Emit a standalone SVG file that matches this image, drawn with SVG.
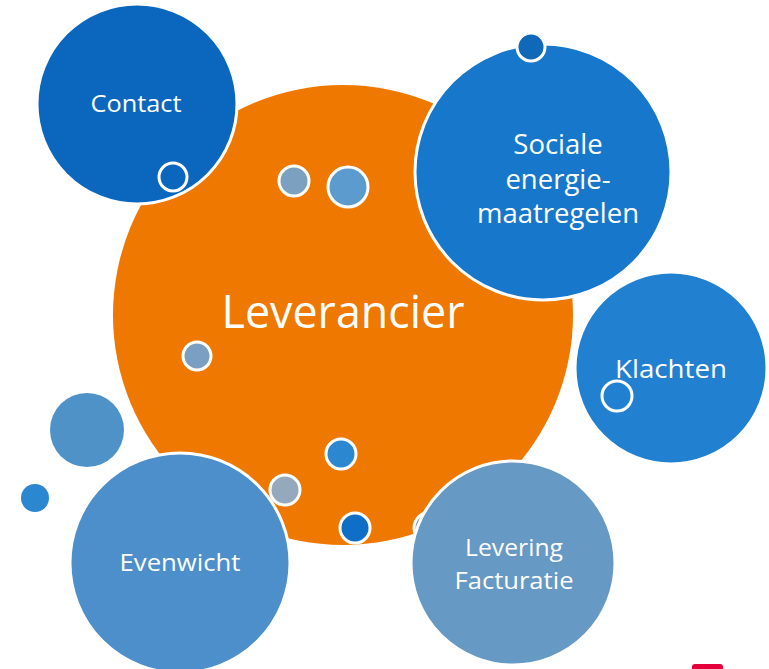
<svg xmlns="http://www.w3.org/2000/svg" width="769" height="669" viewBox="0 0 769 669">
<style>
.big{stroke:#fff;stroke-width:3}
.dot{stroke:#fff;stroke-width:3}
.lbl{fill:#fff;font-family:"Open Sans","Noto Sans",sans-serif;text-anchor:middle}
</style>
<rect width="769" height="669" fill="#fff"/>
<g id="leverancier">
<circle cx="343" cy="315" r="230" fill="#ee7800"/>
<text class="lbl" x="343" y="328" font-size="45" textLength="243" lengthAdjust="spacingAndGlyphs">Leverancier</text>
</g>
<g id="dots-orange">
<circle class="dot" cx="294" cy="181" r="15" fill="#7ba0c0"/>
<circle class="dot" cx="348" cy="187" r="20" fill="#5b9bce"/>
<circle class="dot" cx="197" cy="356" r="14" fill="#7a9fc2"/>
<circle class="dot" cx="341" cy="454" r="15" fill="#2b87d0"/>
<circle class="dot" cx="285" cy="490" r="15" fill="#94a9bb"/>
<circle class="dot" cx="355" cy="528" r="15" fill="#0f6fc6"/>
<circle class="dot" cx="430" cy="528" r="16" fill="#7ba0c0"/>
</g>
<g id="free-dots">
<circle cx="87" cy="430" r="37" fill="#4f92c8"/>
<circle cx="35" cy="498" r="14" fill="#2b87d0"/>
</g>
<g id="contact">
<circle class="big" cx="137" cy="104" r="100" fill="#0b66bd"/>
<circle class="dot" cx="173" cy="177" r="14" fill="#0b66bd"/>
<text class="lbl" x="136" y="112" font-size="24" textLength="91" lengthAdjust="spacingAndGlyphs">Contact</text>
</g>
<g id="klachten">
<circle class="big" cx="671" cy="368" r="96" fill="#2280d0"/>
<circle class="dot" cx="617" cy="396" r="15" fill="#2280d0"/>
<text class="lbl" x="671" y="378" font-size="26" textLength="112" lengthAdjust="spacingAndGlyphs">Klachten</text>
</g>
<g id="sociale">
<circle class="big" cx="543" cy="172" r="128" fill="#1677cb"/>
<circle class="dot" cx="531" cy="47" r="14" fill="#0f68b8"/>
<text class="lbl" font-size="27.5"><tspan x="558" y="154">Sociale</tspan><tspan x="558" y="189">energie-</tspan><tspan x="558" y="223">maatregelen</tspan></text>
</g>
<g id="evenwicht">
<circle class="big" cx="180" cy="563" r="110" fill="#4c8fca"/>
<text class="lbl" x="180" y="571" font-size="24" textLength="121" lengthAdjust="spacingAndGlyphs">Evenwicht</text>
</g>
<g id="levering">
<circle class="big" cx="513" cy="563" r="102" fill="#6699c4"/>
<text class="lbl" x="514" y="556" font-size="24" textLength="98" lengthAdjust="spacingAndGlyphs">Levering</text>
<text class="lbl" x="514" y="589" font-size="24" textLength="119" lengthAdjust="spacingAndGlyphs">Facturatie</text>
</g>
<g id="corner-mark">
<path d="M692,669 V667 Q692,664 695,664 H720 Q723,664 723,667 V669 Z" fill="#e4003a"/>
</g>
</svg>
